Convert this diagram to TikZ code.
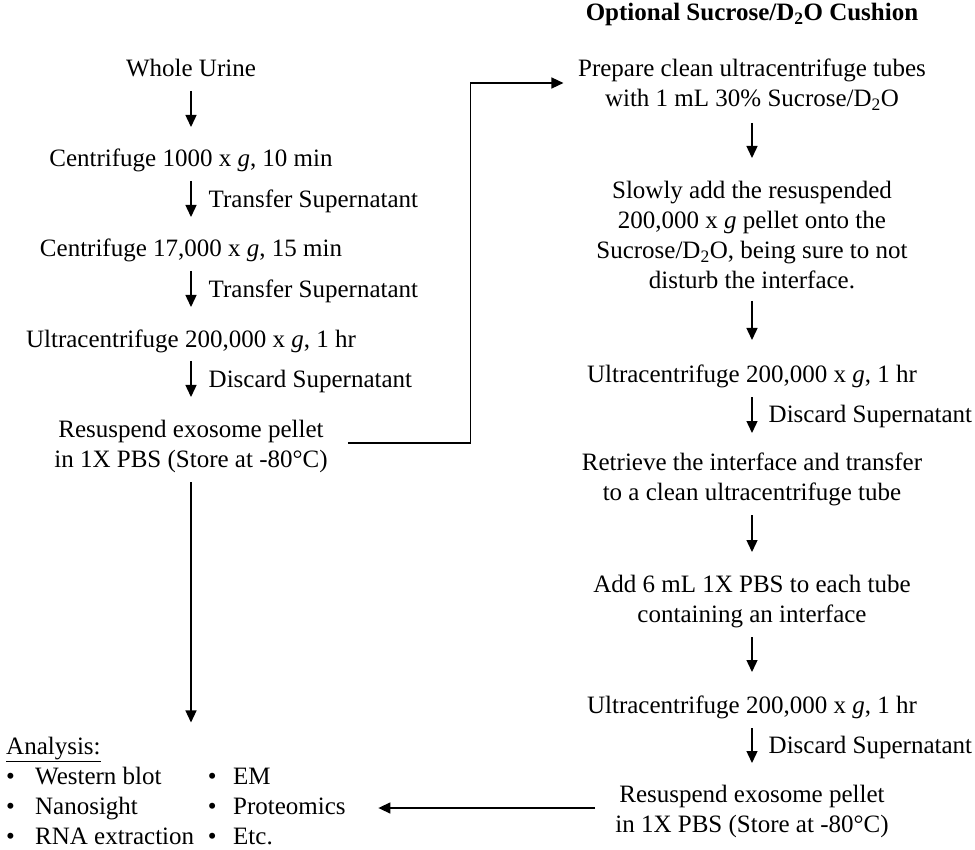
\documentclass[tikz,border=0pt]{standalone}
\usepackage{fontspec}
\setmainfont{Liberation Serif}
\usetikzlibrary{arrows.meta,calc}
\begin{document}
\begin{tikzpicture}[x=1pt,y=-1pt,
  every node/.style={font=\fontsize{25}{30}\selectfont, inner sep=0pt, align=center},
  stepnode/.style={anchor=base},
  arr/.style={line width=1.4pt, -{Triangle[length=12pt,width=11pt]}},
  lbl/.style={anchor=base west}]
\useasboundingbox (0,0) rectangle (975,850);

% left column (multi-line nodes are placed by their last baseline)
\node[stepnode] (n1) at (191,77) {Whole Urine};
\node[stepnode] (n2) at (191,167) {Centrifuge 1000 x \textit{g}, 10 min};
\node[stepnode] (n3) at (191,257) {Centrifuge 17,000 x \textit{g}, 15 min};
\node[stepnode] (n4) at (191,348) {Ultracentrifuge 200,000 x \textit{g}, 1 hr};
\node[stepnode] (n5) at (191,467) {Resuspend exosome pellet\\in 1X PBS (Store at -80°C)};

\draw[arr] ([yshift=-14pt]n1.base) -- ([yshift=40pt]n2.base);
\draw[arr] ([yshift=-14pt]n2.base) -- ([yshift=40pt]n3.base)
  node[lbl, pos=0.5, xshift=17pt, yshift=-9pt] {Transfer Supernatant};
\draw[arr] ([yshift=-14pt]n3.base) -- ([yshift=41pt]n4.base)
  node[lbl, pos=0.5, xshift=17pt, yshift=-9pt] {Transfer Supernatant};
\draw[arr] ([yshift=-13pt]n4.base) -- ([yshift=70pt]n5.base)
  node[lbl, pos=0.5, xshift=17pt, yshift=-9pt] {Discard Supernatant};

% analysis
\node[anchor=base west, align=left] (ana) at (6,844) {\underline{Analysis:}\\
\makebox[29pt][l]{\textbullet}\makebox[172.6pt][l]{Western blot}\makebox[25.4pt][l]{\textbullet}EM\\
\makebox[29pt][l]{\textbullet}\makebox[172.6pt][l]{Nanosight}\makebox[25.4pt][l]{\textbullet}Proteomics\\
\makebox[29pt][l]{\textbullet}\makebox[172.6pt][l]{RNA extraction}\makebox[25.4pt][l]{\textbullet}Etc.};

\draw[arr] ([yshift=-15pt]n5.base) -- ($(n5.base |- ana.north)+(0,-14)$);

% right column
\node[stepnode] (t) at (752,21) {\textbf{Optional Sucrose/D\textsubscript{2}O Cushion}};
\node[stepnode] (r1) at (752,107) {Prepare clean ultracentrifuge tubes\\with 1 mL 30\% Sucrose/D\textsubscript{2}O};
\node[stepnode] (r2) at (752,289) {Slowly add the resuspended\\200,000 x \textit{g} pellet onto the\\Sucrose/D\textsubscript{2}O, being sure to not\\disturb the interface.};
\node[stepnode] (r3) at (752,382) {Ultracentrifuge 200,000 x \textit{g}, 1 hr};
\node[stepnode] (r4) at (752,500) {Retrieve the interface and transfer\\to a clean ultracentrifuge tube};
\node[stepnode] (r5) at (752,622) {Add 6 mL 1X PBS to each tube\\containing an interface};
\node[stepnode] (r6) at (752,713) {Ultracentrifuge 200,000 x \textit{g}, 1 hr};
\node[stepnode] (r7) at (752,832) {Resuspend exosome pellet\\in 1X PBS (Store at -80°C)};

\draw[arr] ([yshift=-16pt]r1.base) -- ([yshift=131pt]r2.base);
\draw[arr] ([yshift=-12pt]r2.base) -- ([yshift=42pt]r3.base);
\draw[arr] ([yshift=-15pt]r3.base) -- ([yshift=67pt]r4.base)
  node[lbl, pos=0.5, xshift=16pt, yshift=-7pt] {Discard Supernatant};
\draw[arr] ([yshift=-15pt]r4.base) -- ([yshift=70pt]r5.base);
\draw[arr] ([yshift=-15pt]r5.base) -- ([yshift=41pt]r6.base);
\draw[arr] ([yshift=-15pt]r6.base) -- ([yshift=69pt]r7.base)
  node[lbl, pos=0.5, xshift=16pt, yshift=-7.5pt] {Discard Supernatant};

% cross connectors
\coordinate (n5out) at ([xshift=20pt,yshift=24pt]n5.base east);
\draw[arr] (n5out) -| ($(r1.base west)+(-107.5,-24)$) -- ($(r1.base west)+(-14.5,-24)$);
\coordinate (r7out) at ([xshift=-20pt,yshift=24pt]r7.base west);
\draw[arr] (r7out) -- ($(ana.east |- r7out)+(32.5,0)$);
\end{tikzpicture}
\end{document}
